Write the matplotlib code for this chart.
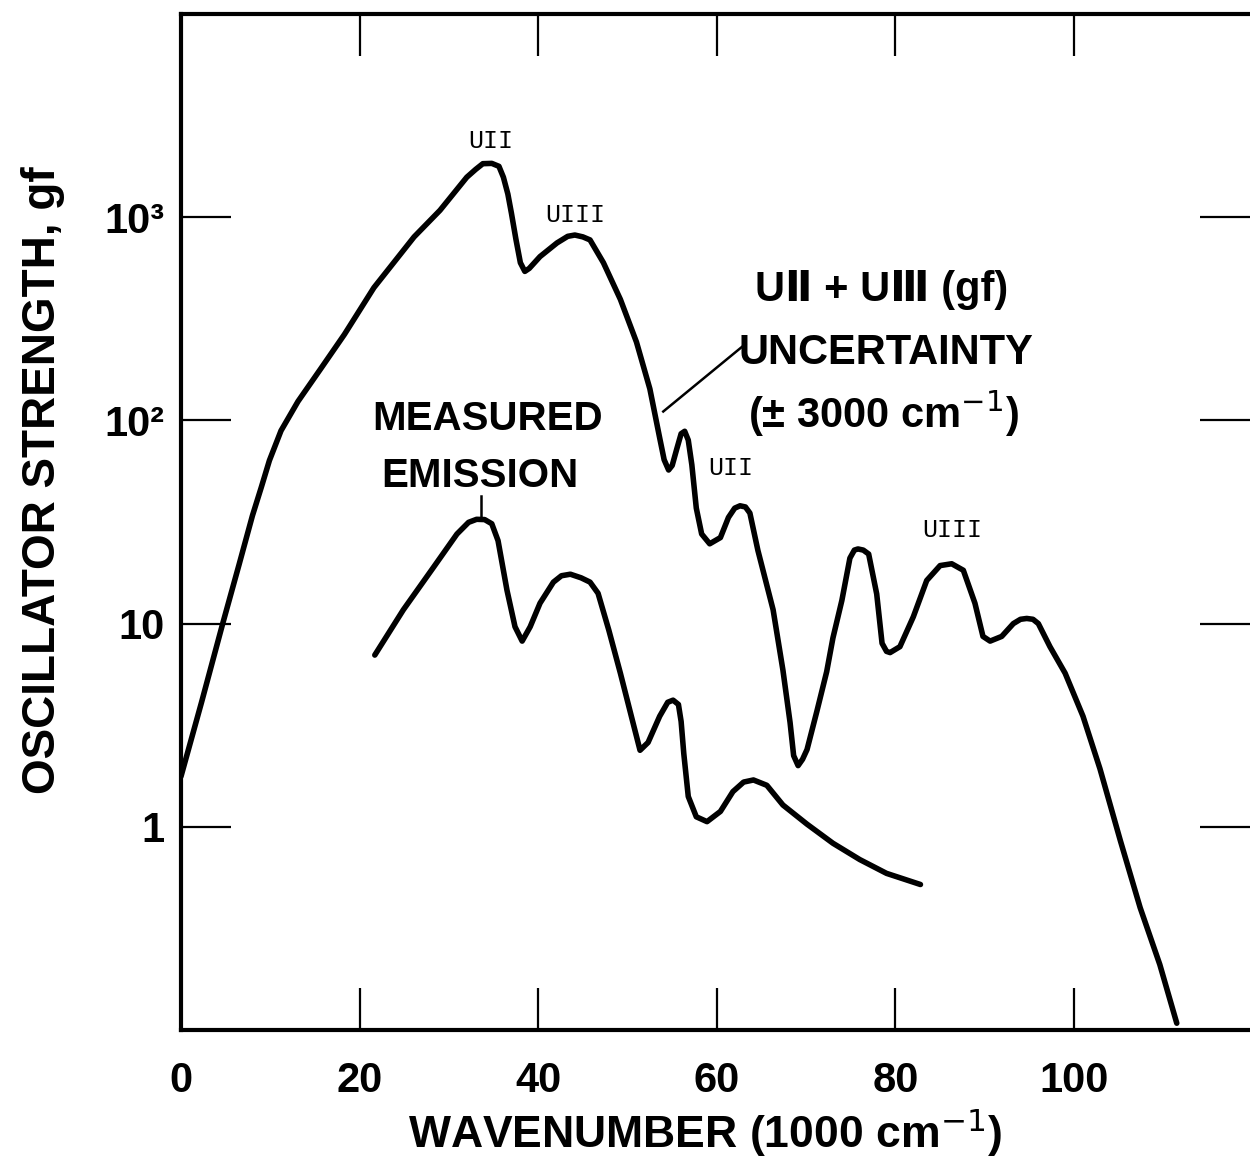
import matplotlib
matplotlib.use("Agg")
import matplotlib.pyplot as plt

# ---- data ----
theory_x = [0, 2.3, 4.67, 6.5, 8.0, 9.0, 9.9, 11.2, 13.1, 15.7, 18.3, 21.6, 26.1, 29.0,
            32.0, 33.0, 33.8, 34.8, 35.6, 36.1, 36.6, 37.0, 37.5, 38.0, 38.5, 39.0,
            40.2, 42.1, 43.3, 44.1, 45.0, 45.8, 47.3, 49.2, 51.0, 52.5, 53.6, 54.1,
            54.6, 55.0, 55.5, 56.0, 56.4, 56.8, 57.2, 57.7, 58.3, 59.2, 60.4, 61.3,
            62.0, 62.6, 63.2, 63.7, 64.6, 66.3, 67.4, 68.2, 68.6, 69.1, 69.6, 70.1,
            71.2, 72.3, 73.0, 74.0, 74.9, 75.4, 75.8, 76.4, 77.0, 77.9, 78.5, 79.0,
            79.4, 80.5, 82.0, 83.5, 85.0, 86.3, 87.6, 88.9, 89.8, 90.6, 91.9, 93.2,
            94.0, 94.7, 95.4, 96.0, 97.3, 99.0, 101.0, 102.9, 105.2, 107.4, 109.6, 111.5]
theory_gf = [1.77, 4.1, 10, 19.5, 34, 47, 63.5, 89, 124, 181, 265, 450, 800, 1081,
             1573, 1720, 1834, 1840, 1780, 1573, 1300, 1046, 780, 597, 541, 560,
             640, 747, 805, 817, 800, 773, 597, 394, 243, 143, 82, 64,
             57, 60, 72, 86, 88.4, 80, 60.5, 37, 27.6, 24.7, 26.5, 33.3,
             37, 38, 37.5, 35, 22.9, 11.7, 5.9, 3.26, 2.24, 2.0, 2.15, 2.4,
             3.7, 5.8, 8.5, 13, 21, 23, 23.3, 23, 22, 14, 8.0, 7.3,
             7.2, 7.7, 10.8, 16.3, 19.3, 19.7, 18.3, 12.6, 8.65, 8.2, 8.65, 10.0,
             10.5, 10.6, 10.5, 10.0, 7.7, 5.7, 3.5, 1.93, 0.85, 0.40, 0.21, 0.108]

meas_x = [21.7, 24.9, 28.3, 30.9, 32.2, 33.1, 34.0, 34.8, 35.5, 36.5, 37.4, 38.2, 39.1,
          40.2, 41.7, 42.6, 43.6, 44.8, 45.8, 46.7, 47.9, 49.2, 50.5, 51.4, 52.3, 53.6,
          54.5, 55.1, 55.7, 56.0, 56.3, 56.8, 57.7, 58.9, 60.4, 61.8, 63.0, 64.1, 65.6,
          67.4, 70.1, 73.0, 76.0, 79.0, 82.8]
meas_gf = [7.0, 11.7, 19, 27.6, 31.5, 32.6, 32.5, 31, 25.6, 14.6, 9.65, 8.2, 9.65,
           12.6, 16, 17.2, 17.5, 16.8, 16, 14.1, 9.3, 5.7, 3.4, 2.38, 2.6, 3.5,
           4.1, 4.2, 4.0, 3.3, 2.29, 1.41, 1.12, 1.06, 1.19, 1.49, 1.66, 1.7, 1.6,
           1.28, 1.03, 0.83, 0.69, 0.59, 0.52]

x_ticks = [0, 20, 40, 60, 80, 100]
x_ticklabels = ["0", "20", "40", "60", "80", "100"]
y_ticks = [1, 10, 100, 1000]
y_ticklabels = ["1", "10", "10²", "10³"]

plt.rcParams["font.family"] = ["Liberation Sans", "DejaVu Sans"]

W, H = 1250, 1163
fig = plt.figure(figsize=(W / 100, H / 100), dpi=100)
ax = fig.add_axes([181 / W, 1 - 1030 / H, (W - 181) / W, (1030 - 14) / H])

ax.plot(theory_x, theory_gf, color="black", lw=4.0, solid_capstyle="round", solid_joinstyle="round")
ax.plot(meas_x, meas_gf, color="black", lw=4.0, solid_capstyle="round", solid_joinstyle="round")

ax.set_yscale("log")
ax.set_xlim(0, 119.7)
ax.set_ylim(0.1, 1e4)

ax.set_xticks(x_ticks)
ax.set_xticklabels(x_ticklabels)
ax.set_yticks(y_ticks)
ax.set_yticklabels(y_ticklabels)
ax.minorticks_off()

ax.tick_params(axis="both", which="major", direction="in", width=1.6, labelsize=30,
               top=True, right=True, colors="black")
ax.tick_params(axis="x", length=30, pad=22)
ax.tick_params(axis="y", length=36, pad=12)
for lab in ax.get_xticklabels() + ax.get_yticklabels():
    lab.set_fontweight("bold")

for s in ["left", "bottom", "top"]:
    ax.spines[s].set_linewidth(3.0)
ax.spines["right"].set_visible(False)

fig.text(705 / W, 1 - 1133 / H, "WAVENUMBER (1000 cm$^{-1}$)", fontsize=32,
         fontweight="bold", ha="center", va="center")
fig.text(43 / W, 1 - 480 / H, "OSCILLATOR STRENGTH, gf", fontsize=33,
         fontweight="bold", rotation=90, ha="center", va="center")

mono = ["Liberation Mono", "DejaVu Sans Mono"]
ax.text(34.7, 2375, "UII", fontsize=18, family=mono, ha="center", va="center")
ax.text(44.2, 1023, "UIII", fontsize=18, family=mono, ha="center", va="center")
ax.text(61.6, 58.3, "UII", fontsize=18, family=mono, ha="center", va="center")
ax.text(86.4, 28.8, "UIII", fontsize=18, family=mono, ha="center", va="center")

ax.text(34.3, 102, "MEASURED", fontsize=29, fontweight="bold", ha="center", va="center")
ax.text(33.5, 53, "EMISSION", fontsize=29, fontweight="bold", ha="center", va="center")
ax.plot([33.6, 33.6], [34, 42.6], color="black", lw=1.8)

ax.text(64.3, 440, "UⅡ + UⅢ (gf)", fontsize=30, fontweight="bold", ha="left", va="center")
ax.text(62.4, 215, "UNCERTAINTY", fontsize=30, fontweight="bold", ha="left", va="center")
ax.text(63.5, 108, "(± 3000 cm$^{-1}$)", fontsize=30, fontweight="bold", ha="left", va="center")
ax.plot([54.0, 63.2], [110.6, 237.6], color="black", lw=1.8)

fig.savefig("out.png", dpi=100)
